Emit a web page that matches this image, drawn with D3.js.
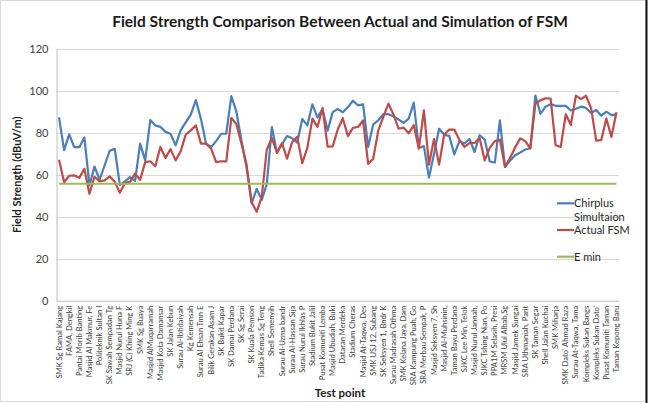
<!DOCTYPE html>
<html>
<head>
<meta charset="utf-8">
<script src="https://cdn.jsdelivr.net/npm/d3@7"></script>
<style>
  html, body { margin: 0; padding: 0; background: #ffffff; }
  svg { display: block; }
</style>
</head>
<body>
<svg id="chart" width="652" height="403"></svg>
<script>
const titleText = "Field Strength Comparison Between Actual and Simulation of FSM";
const yAxisTitle = "Field Strength (dBuV/m)";
const xAxisTitle = "Test point";

// Tick labels (Excel shows every other category)
const categoryLabels = [
  "SMK Sg Ramal Kajang", "FAMA, Dengkil", "Pantai Morib Banting", "Masjid Al Makmur, Fe",
  "Politeknik  Sultan I", "SK Sawah Sempadan Tg", "Masjid Nurul Huna F", "SRJ (C) Khing Ming K",
  "SMK Sg Buaya", "Masjid AlMuqarramah", "Masjid Kota Damansar", "SK Jalan Kebun",
  "Surau Al-Ibtidaiyah", "Kg Kemensah", "Surau Al Ehsan Tmn E", "Bilik Gerakan Asam J",
  "SK Bukit Kapar", "SK Damai Perdana", "SK Sg Serai", "SK Kuala Pemson",
  "Tadika Kemas Sg Teng", "Shell Semenyih", "Surau Al-Uzma bandr", "Surau Al-Hassan Sija",
  "Surau Nurul Ikhlas P", "Stadium Bukit Jalil", "Pusat Komuniti Lemba", "Masjid Ubudiah, Buki",
  "Dataran Merdeka", "Stadium Cheras", "Masjid At-Taqwa, Des", "SMK USJ 12, Subang",
  "SK Seksyen 1, Bndr K", "Surau Madrasah Othma", "SMK Kelana Jaya, Dam", "SRA Kampung Puah, Go",
  "SRA Merbau Sempak, P", "Masjid Seksyen 7, Sh", "Masjid Al-Muhsinin,", "Taman Bayu Perdana",
  "SJKC Lee Min, Telok", "Masjid Nurul Jannah,", "SJKC Tshing Nian, Po", "PPA1M Selasih, Presi",
  "MRSM Ulul Albab,Sg", "Masjid Jamek Sungai", "SRA Uthmaniah, Parit", "SK Taman Segar",
  "Shell Jalan Kuchai", "SMK Miharja", "SMK Dato' Ahmad Raza", "Surau At-Taqwa, Tama",
  "Kompleks Sukan Bangs", "Kompleks Sukan Dato'", "Pusat Komuniti Taman", "Taman Kepong Baru"
];

const chirplusSimulation = [
  87.3, 71.7, 79.2, 73.1, 73.1, 77.7, 55.0, 63.9, 57.7, 64.5,
  71.4, 72.3, 55.0, 56.8, 58.9, 57.0, 74.8, 66.8, 86.0, 83.5,
  82.8, 80.4, 79.5, 74.0, 81.1, 84.9, 88.6, 95.5, 86.6, 74.8,
  73.2, 76.0, 79.5, 79.5, 97.4, 90.0, 76.3, 63.5, 46.3, 53.3,
  48.0, 55.5, 82.7, 70.3, 74.5, 78.4, 77.3, 75.3, 86.5, 83.5,
  93.5, 87.3, 91.3, 81.0, 89.8, 91.3, 89.7, 92.2, 95.2, 93.0,
  93.5, 73.2, 84.0, 85.9, 88.8, 88.8, 87.8, 86.3, 84.7, 86.7,
  94.3, 72.7, 73.6, 58.6, 70.0, 81.9, 79.0, 78.5, 69.7, 76.0,
  74.9, 77.0, 70.8, 78.8, 76.7, 66.3, 65.8, 85.9, 63.8, 66.6,
  69.3, 70.6, 72.0, 72.6, 97.7, 89.0, 92.4, 93.6, 92.8, 92.8,
  92.8, 90.6, 91.4, 92.4, 91.8, 89.4, 90.8, 88.1, 90.0, 88.4,
  88.7
];

const actualFSM = [
  67.1, 56.4, 59.5, 59.7, 58.5, 62.8, 50.9, 59.0, 56.8, 57.3,
  59.2, 56.6, 51.4, 56.1, 56.6, 60.5, 57.5, 66.0, 66.4, 64.0,
  73.2, 68.0, 72.2, 66.8, 71.1, 79.1, 81.1, 83.5, 74.8, 74.8,
  72.5, 66.0, 66.4, 66.3, 87.0, 84.1, 74.8, 64.8, 47.0, 42.3,
  49.4, 72.0, 77.4, 70.5, 75.0, 67.6, 75.5, 78.1, 65.5, 72.8,
  86.7, 82.7, 91.8, 73.4, 73.5, 81.5, 86.9, 78.3, 82.3, 82.7,
  85.8, 65.1, 67.6, 81.1, 87.5, 93.8, 88.6, 81.9, 82.4, 79.7,
  83.6, 72.4, 90.6, 64.8, 77.0, 64.8, 79.0, 81.5, 81.5, 76.6,
  73.2, 75.0, 75.1, 77.4, 66.8, 72.8, 76.0, 76.7, 63.7, 68.0,
  73.0, 77.3, 76.0, 72.5, 93.8, 95.4, 96.4, 96.2, 74.0, 73.2,
  88.8, 83.7, 97.7, 96.0, 97.6, 91.6, 76.2, 76.5, 86.8, 78.0,
  89.7
];

const eMinValue = 55.7;
const yTickValues = [0, 20, 40, 60, 80, 100, 120];

const seriesNames = ["Chirplus", "Simultaion", "Actual FSM", "E min"];
const colors = { blue: "#4a7ebb", red: "#be4b48", green: "#9bbb59" };

const svg = d3.select("#chart");
const fontFamily = "Lato, 'Open Sans', sans-serif";

// chart border
svg.append("rect").attr("x", 0.5).attr("y", 0.5).attr("width", 645).attr("height", 401)
  .attr("fill", "#fff").attr("stroke", "#d9d9d9");
svg.append("line").attr("x1", 646.5).attr("x2", 646.5).attr("y1", 0).attr("y2", 403)
  .attr("stroke", "#111").attr("stroke-width", 2);

const plot = { left: 56.5, right: 619, top: 48.7, bottom: 300.7 };
const n = chirplusSimulation.length;

const x = d3.scaleBand().domain(d3.range(n)).range([plot.left, plot.right]).padding(0);
const cx = i => x(i) + x.bandwidth() / 2;
const y = d3.scaleLinear().domain([0, 120]).range([plot.bottom, plot.top]);

// gridlines
svg.append("g")
  .selectAll("line").data(yTickValues.filter(v => v > 0)).join("line")
  .attr("x1", plot.left).attr("x2", plot.right)
  .attr("y1", d => Math.round(y(d)) + 0.5).attr("y2", d => Math.round(y(d)) + 0.5)
  .attr("stroke", "#d9d9d9").attr("stroke-width", 1);

// y axis
const yAxis = d3.axisLeft(y).tickValues(yTickValues).tickSize(0).tickPadding(8);
const gy = svg.append("g").attr("transform", `translate(${plot.left},0)`).call(yAxis);
gy.select(".domain").attr("stroke", "#bfbfbf");
gy.selectAll("text").attr("font-family", fontFamily).attr("font-size", 11).attr("fill", "#404040");

// x axis
const xAxis = d3.axisBottom(x).tickSize(0)
  .tickValues(d3.range(0, n, 2))
  .tickFormat(i => categoryLabels[i / 2]);
const gx = svg.append("g").attr("transform", `translate(0,${plot.bottom})`).call(xAxis);
gx.select(".domain").attr("stroke", "#bfbfbf");
gx.selectAll(".tick text")
  .attr("font-family", fontFamily).attr("font-size", 7.6).attr("fill", "#404040")
  .attr("text-anchor", "end")
  .attr("transform", "rotate(-90)")
  .attr("x", -5).attr("y", 0).attr("dy", "0.33em");

// lines
const line = d3.line().x((d, i) => cx(i)).y(d => y(d));
svg.append("path").datum(chirplusSimulation).attr("d", line)
  .attr("fill", "none").attr("stroke", colors.blue).attr("stroke-width", 2.2).attr("stroke-linejoin", "round");
svg.append("path").datum(actualFSM).attr("d", line)
  .attr("fill", "none").attr("stroke", colors.red).attr("stroke-width", 2.2).attr("stroke-linejoin", "round");
svg.append("path").datum(d3.range(n).map(() => eMinValue)).attr("d", line)
  .attr("fill", "none").attr("stroke", colors.green).attr("stroke-width", 2.2);

// title
svg.append("text").attr("x", 340).attr("y", 27).attr("text-anchor", "middle")
  .attr("font-family", fontFamily).attr("font-weight", "bold").attr("font-size", 15.5)
  .attr("fill", "#1a1a1a").text(titleText);

// axis titles
svg.append("text").attr("transform", `translate(21,${(plot.top + plot.bottom) / 2}) rotate(-90)`)
  .attr("text-anchor", "middle").attr("font-family", fontFamily).attr("font-weight", "bold")
  .attr("font-size", 11).attr("fill", "#1a1a1a").text(yAxisTitle);
svg.append("text").attr("x", 340).attr("y", 397).attr("text-anchor", "middle")
  .attr("font-family", fontFamily).attr("font-weight", "bold")
  .attr("font-size", 11.5).attr("fill", "#1a1a1a").text(xAxisTitle);

// legend
const legend = svg.append("g").attr("font-family", fontFamily).attr("font-size", 11).attr("fill", "#262626");
const legendItems = [
  { name: seriesNames[0], color: colors.blue, y: 203.3 },
  { name: seriesNames[1], color: null, y: 216.7 },
  { name: seriesNames[2], color: colors.red, y: 230 },
  { name: seriesNames[3], color: colors.green, y: 256.7 }
];
legendItems.forEach(it => {
  if (it.color) {
    legend.append("line").attr("x1", 557).attr("x2", 574).attr("y1", it.y).attr("y2", it.y)
      .attr("stroke", it.color).attr("stroke-width", 2.2);
  }
  legend.append("text").attr("x", 574).attr("y", it.y).attr("dy", "0.35em").text(it.name);
});
</script>
</body>
</html>
